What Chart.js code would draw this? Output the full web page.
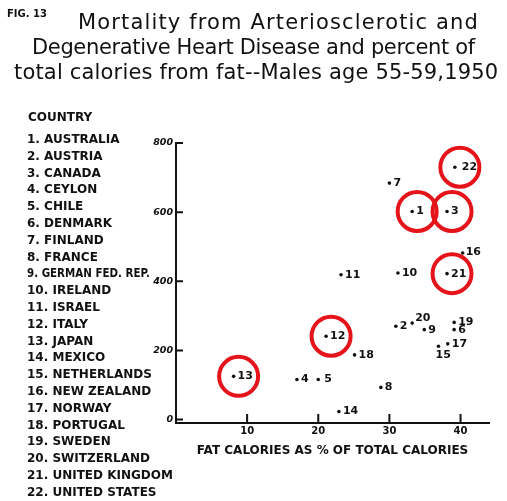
<!DOCTYPE html>
<html>
<head>
<meta charset="utf-8">
<script src="https://cdn.jsdelivr.net/npm/chart.js@4.4.1/dist/chart.umd.min.js"></script>
<style>
  html, body { margin: 0; padding: 0; background: #fff; }
  #wrap { width: 507px; height: 501px; position: relative; }
</style>
</head>
<body>
<div id="wrap"><canvas id="chart"></canvas></div>
<script>
// Fig. 13 - mortality vs. fat calories, males 55-59, 1950
const countryNames = [
  'AUSTRALIA', 'AUSTRIA', 'CANADA', 'CEYLON', 'CHILE', 'DENMARK', 'FINLAND',
  'FRANCE', 'GERMAN FED. REP.', 'IRELAND', 'ISRAEL', 'ITALY', 'JAPAN', 'MEXICO',
  'NETHERLANDS', 'NEW ZEALAND', 'NORWAY', 'PORTUGAL', 'SWEDEN', 'SWITZERLAND',
  'UNITED KINGDOM', 'UNITED STATES'
];
const fatPercent = [
  33.2, 30.9, 38.1, 17.0, 20.0, 39.1, 30.0, 28.8, 34.9, 31.2, 23.2,
  21.1, 8.1, 22.9, 36.9, 40.3, 38.2, 25.1, 39.1, 33.2, 38.1, 39.2
];
const mortality = [
  602, 270, 602, 116, 116, 260, 684, 93, 260, 424, 419,
  241, 125, 23, 212, 482, 219, 187, 281, 279, 422, 730
];
const circledCountries = [1, 3, 12, 13, 21, 22];
const xTickValues = [10, 20, 30, 40];
const yTickValues = [0, 200, 400, 600, 800];

const titleLines = [
  'Mortality from Arteriosclerotic and',
  'Degenerative Heart Disease and percent of',
  'total calories from fat--Males age 55-59,1950'
];
const xAxisTitle = 'FAT CALORIES AS % OF TOTAL CALORIES';

// where each title line sits: [left, right, baseline]
const TITLE_BOX = [[78, 478, 29], [32, 475, 54], [14, 498, 79]];
// label nudges (pixels) for numbers that are not simply right of the dot
const LABEL_NUDGE = {
  5: [6, 0], 15: [-3, 9], 16: [3, -1], 20: [3, -5], 22: [7, 0]
};
const RED = '#e5141b';
const INK = '#111';

const points = fatPercent.map((x, i) => ({ x, y: mortality[i], n: i + 1 }));

const inwardTicks = {
  id: 'inwardTicks',
  afterDraw(chart) {
    const { ctx, chartArea, scales } = chart;
    ctx.save();
    ctx.strokeStyle = INK;
    ctx.lineWidth = 2;
    ctx.beginPath();
    scales.x.ticks.forEach(t => {
      const px = scales.x.getPixelForValue(t.value);
      ctx.moveTo(px, chartArea.bottom);
      ctx.lineTo(px, chartArea.bottom - 9);
    });
    scales.y.ticks.forEach(t => {
      const py = scales.y.getPixelForValue(t.value);
      ctx.moveTo(chartArea.left, py);
      ctx.lineTo(chartArea.left + 7, py);
    });
    ctx.stroke();
    ctx.restore();
  }
};

const pointLabels = {
  id: 'pointLabels',
  afterDatasetsDraw(chart) {
    const { ctx, scales } = chart;
    ctx.save();
    ctx.fillStyle = INK;
    ctx.font = 'bold 11px "DejaVu Sans"';
    ctx.textBaseline = 'middle';
    points.forEach(p => {
      const px = scales.x.getPixelForValue(p.x);
      const py = scales.y.getPixelForValue(p.y);
      const [dx, dy] = LABEL_NUDGE[p.n] || [4, 0];
      ctx.fillText(String(p.n), px + dx, py + dy);
    });
    // red rings around the highlighted countries
    ctx.strokeStyle = RED;
    ctx.lineWidth = 4;
    circledCountries.forEach(n => {
      const p = points[n - 1];
      const px = scales.x.getPixelForValue(p.x) + 5;
      const py = scales.y.getPixelForValue(p.y);
      ctx.beginPath();
      ctx.arc(px, py, 19.5, 0, Math.PI * 2);
      ctx.stroke();
    });
    ctx.restore();
  }
};

const pageText = {
  id: 'pageText',
  afterDraw(chart) {
    const { ctx } = chart;
    ctx.save();
    ctx.fillStyle = INK;
    ctx.textBaseline = 'alphabetic';
    ctx.font = 'bold 10px "DejaVu Sans"';
    ctx.fillText('FIG. 13', 7, 17);

    // title lines, spread to the width of the hand lettering
    ctx.font = '21px "DejaVu Sans"';
    titleLines.forEach((line, i) => {
      const [x0, x1, base] = TITLE_BOX[i];
      ctx.letterSpacing = '0px';
      const w = ctx.measureText(line).width;
      const gap = (x1 - x0 - w) / (line.length - 1);
      ctx.letterSpacing = gap.toFixed(2) + 'px';
      ctx.fillText(line, x0, base);
    });
    ctx.letterSpacing = '0px';

    ctx.font = 'bold 12px "DejaVu Sans"';
    ctx.fillText('COUNTRY', 28, 121);
    countryNames.forEach((name, i) => {
      const label = `${i + 1}. ${name}`;
      const y = 143 + i * 16.8;
      if (name.startsWith('GERMAN')) {
        ctx.fillText(label, 27, y, 123);
      } else {
        ctx.fillText(label, 27, y);
      }
    });
    ctx.restore();
  }
};

new Chart(document.getElementById('chart'), {
  type: 'scatter',
  data: {
    datasets: [{
      label: 'Countries',
      data: points,
      backgroundColor: INK,
      borderWidth: 0,
      pointRadius: 1.8,
      pointHoverRadius: 1.8
    }]
  },
  options: {
    responsive: true,
    maintainAspectRatio: false,
    animation: false,
    layout: { padding: { left: 116, top: 143, right: 18, bottom: 43 } },
    plugins: {
      legend: { display: false },
      title: { display: false },
      tooltip: { enabled: false }
    },
    scales: {
      x: {
        type: 'linear',
        min: 0,
        max: 44,
        afterBuildTicks: s => { s.ticks = xTickValues.map(v => ({ value: v })); },
        afterFit: s => { s.height = 35; },
        grid: { display: false, drawTicks: false },
        border: { display: true, color: INK, width: 2 },
        ticks: {
          color: INK,
          padding: 2,
          font: { family: 'DejaVu Sans', size: 10, weight: 'bold' }
        },
        title: {
          display: true,
          text: xAxisTitle,
          color: INK,
          padding: 0,
          font: { family: 'DejaVu Sans', size: 12, weight: 'bold' }
        }
      },
      y: {
        type: 'linear',
        min: -10,
        max: 800,
        afterBuildTicks: s => { s.ticks = yTickValues.map(v => ({ value: v })); },
        afterFit: s => { s.width = 60; },
        grid: { display: false, drawTicks: false },
        border: { display: true, color: INK, width: 2 },
        ticks: {
          color: INK,
          padding: 3,
          font: { family: 'DejaVu Sans', size: 9.5, weight: 'bold', style: 'italic' }
        }
      }
    }
  },
  plugins: [inwardTicks, pointLabels, pageText]
});
</script>
</body>
</html>
